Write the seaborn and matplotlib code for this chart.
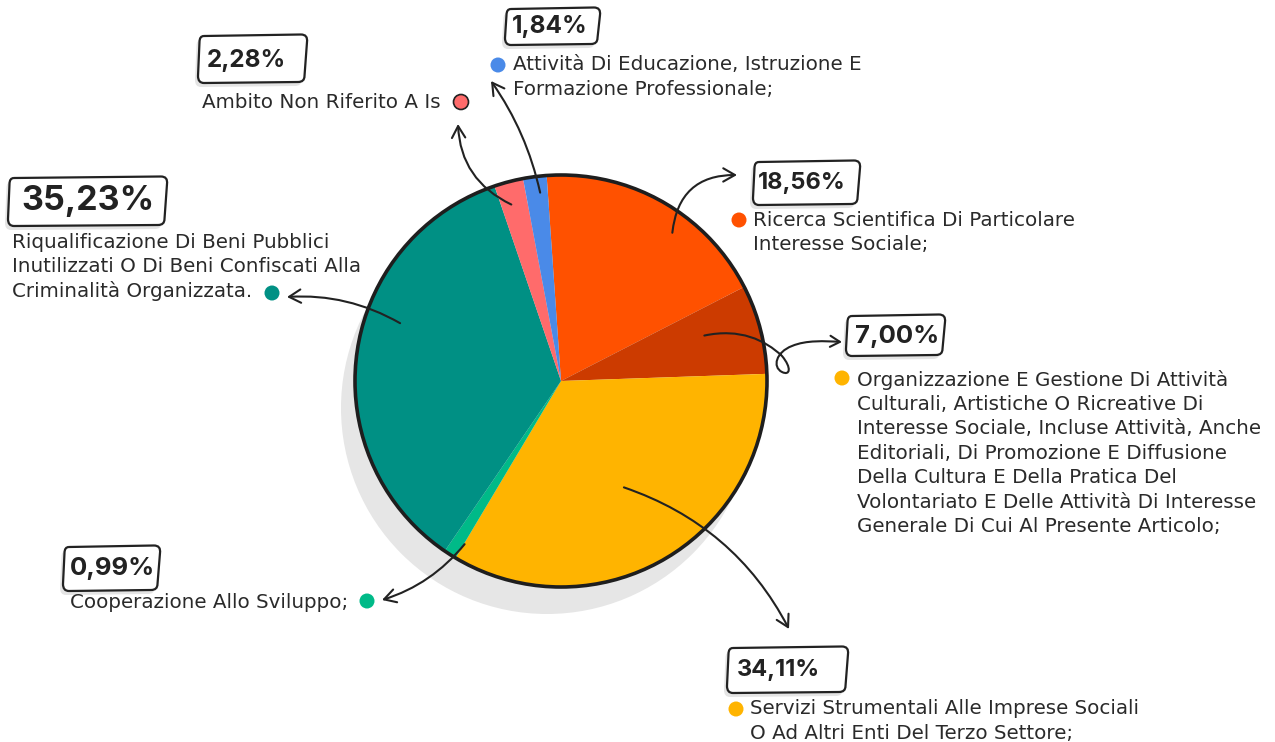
import numpy as np
import matplotlib
matplotlib.use("Agg")
import matplotlib.pyplot as plt
import seaborn as sns
from matplotlib.patches import Circle, PathPatch, FancyArrowPatch
from matplotlib.path import Path

sns.set_theme(style="white")
plt.rcParams['font.family'] = ['DejaVu Sans']

# ---- data (clockwise from top) ----
categories = [
    "Ricerca Scientifica Di Particolare\nInteresse Sociale;",
    "Organizzazione E Gestione Di Attività\nCulturali, Artistiche O Ricreative Di\nInteresse Sociale, Incluse Attività, Anche\nEditoriali, Di Promozione E Diffusione\nDella Cultura E Della Pratica Del\nVolontariato E Delle Attività Di Interesse\nGenerale Di Cui Al Presente Articolo;",
    "Servizi Strumentali Alle Imprese Sociali\nO Ad Altri Enti Del Terzo Settore;",
    "Cooperazione Allo Sviluppo;",
    "Riqualificazione Di Beni Pubblici\nInutilizzati O Di Beni Confiscati Alla\nCriminalità Organizzata.",
    "Ambito Non Riferito A Is",
    "Attività Di Educazione, Istruzione E\nFormazione Professionale;",
]
values = [18.56, 7.00, 34.11, 0.99, 35.23, 2.28, 1.84]
pct_labels = ["18,56%", "7,00%", "34,11%", "0,99%", "35,23%", "2,28%", "1,84%"]
slice_colors = ["#FF5100", "#CC3B00", "#FFB400", "#00BA88", "#009084", "#FF6B6B", "#4A8AE8"]
dot_colors = ["#FF5100", "#FFB400", "#FFB400", "#00BA88", "#009084", "#FF6B6B", "#4A8AE8"]

W, H = 1275, 742
fig = plt.figure(figsize=(W / 100, H / 100), dpi=100)
ax = fig.add_axes([0, 0, 1, 1])

def Y(y):
    return H - y

cx, cy, R = 561, Y(381), 206
start = 94
INK = "#222222"

# shadow
ax.add_patch(Circle((cx - 14, cy - 27), R, color="#E6E6E6", zorder=0, lw=0))
wedges, _ = ax.pie(values, colors=sns.color_palette(slice_colors), startangle=start,
                   counterclock=False, center=(cx, cy), radius=R,
                   wedgeprops=dict(linewidth=0), frame=True)
ax.set_xlim(0, W)
ax.set_ylim(0, H)
ax.set_aspect("equal")
ax.axis("off")
ax.add_patch(Circle((cx, cy), R, fill=False, ec="#1E1E1E", lw=2.6, zorder=5))


def hand_box(x0, y0, x1, y1, z=6):
    """slightly irregular, hand-drawn looking rounded box (pixel coords)"""
    r = 6
    pts = [
        ((x0 + r, y0), Path.MOVETO),
        ((x1 - r, y0 - 1.5), Path.LINETO),
        ((x1 + 1, y0 - 1.5), Path.CURVE3), ((x1, y0 + r), Path.CURVE3),
        ((x1 - 2.5, y1 - r), Path.LINETO),
        ((x1 - 2.5, y1), Path.CURVE3), ((x1 - 9, y1), Path.CURVE3),
        ((x0 + r, y1 + 1), Path.LINETO),
        ((x0, y1 + 1), Path.CURVE3), ((x0, y1 - r), Path.CURVE3),
        ((x0 + 1.5, y0 + r), Path.LINETO),
        ((x0 + 1.5, y0), Path.CURVE3), ((x0 + r, y0), Path.CURVE3),
    ]
    verts = [(p[0], Y(p[1])) for p, _ in pts]
    codes = [c for _, c in pts]
    sh = [(vx - 3, vy - 4) for vx, vy in verts]
    ax.add_patch(PathPatch(Path(sh, codes), fc="#E4E4E4", ec="none", zorder=z - 0.5))
    ax.add_patch(PathPatch(Path(verts, codes), fc="white", ec=INK, lw=1.6, zorder=z))


# layout: (pct text left x, pct center y, pct fontsize, box x0,y0,x1,y1,
#          desc left x, first line y, dot x, dot y)
layout = [
    (758, 183, 17.0, (753, 162, 860, 204), 753, 220, 739, 220),
    (855, 336, 18.5, (846, 316, 945, 355), 857, 380, 842, 378),
    (737, 670, 17.0, (727, 648, 848, 692), 750, 709, 736, 709),
    (70, 568, 18.5, (63, 547, 160, 590), 70, 602, 367, 601),
    (21, 201, 24.5, (8, 178, 167, 225), 12, 242, 272, 293),
    (207, 61, 17.5, (198, 36, 307, 82), 202, 103, 461, 102),
    (512, 27, 17.5, (505, 9, 600, 44), 513, 65, 498, 65),
]
# arrow: head point, tail radius fraction, tail angle shift (deg clockwise), arc rad
arrows = [
    ((737, 175), 0.9, 7.5, -0.45),
    ((842, 342), 0.73, -3, None),
    ((789, 629), 0.6, 0, -0.2),
    ((382, 600), 0.92, -2, -0.15),
    ((287, 297), 0.83, 12, 0.15),
    ((458, 124), 0.89, -1, -0.3),
    ((491, 81), 0.92, 1, 0.1),
]
# intermediate points of the looped arrow (7,00%)
loop_pts = [(740, 328), (765, 340), (782, 356),
            (792, 368), (790, 376), (782, 372),
            (772, 367), (776, 352), (792, 346),
            (806, 340), (825, 341)]

line_h = 24.4
total = sum(values)
cum = 0
astyle = "->,head_length=0.7,head_width=0.4"
for i, v in enumerate(values):
    mid = start - (cum + v / 2) / total * 360
    cum += v
    px, py, fs, box, dx, dy, ox, oy = layout[i]
    hand_box(*box)
    ax.text(px, Y(py), pct_labels[i], fontsize=fs, fontweight="bold", color=INK,
            family=["Inter", "DejaVu Sans"], ha="left", va="center", zorder=7)
    for j, line in enumerate(categories[i].split("\n")):
        ax.text(dx, Y(dy + j * line_h), line, fontsize=14.3, color="#2A2A2A",
                ha="left", va="center", zorder=6)
    ax.add_patch(Circle((ox, Y(oy)), 7.5, color=dot_colors[i], zorder=6,
                        ec=INK if i == 5 else "none", lw=1.2))
    head, rf, shift, rad = arrows[i]
    ang = np.deg2rad(mid - shift)
    tx = cx + rf * R * np.cos(ang)
    ty = cy + rf * R * np.sin(ang)
    if rad is None:
        verts = [(tx, ty)] + [(p[0], Y(p[1])) for p in loop_pts] + [(head[0], Y(head[1]))]
        codes = [Path.MOVETO] + [Path.CURVE4] * 12
        ax.add_patch(FancyArrowPatch(path=Path(verts, codes), arrowstyle=astyle,
                                     color=INK, lw=1.5, zorder=7,
                                     mutation_scale=10))
    else:
        ax.annotate("", xy=(head[0], Y(head[1])), xytext=(tx, ty), zorder=7,
                    arrowprops=dict(arrowstyle=astyle,
                                    connectionstyle=f"arc3,rad={rad}", color=INK,
                                    lw=1.5, shrinkA=0, shrinkB=0))

fig.savefig("out.png", dpi=100)
